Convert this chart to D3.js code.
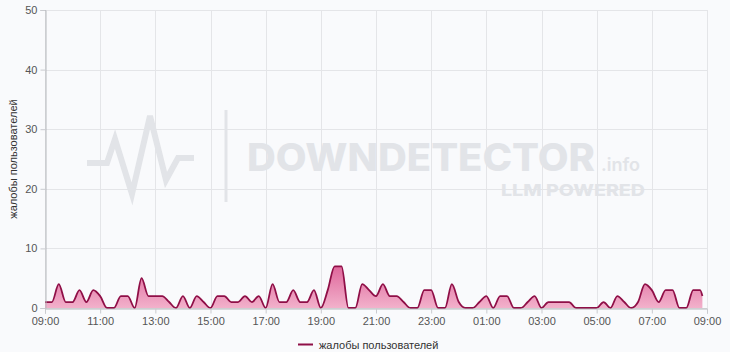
<!DOCTYPE html>
<html>
<head>
<meta charset="utf-8">
<script src="https://cdn.jsdelivr.net/npm/d3@7"></script>
<style>
  html, body { margin: 0; padding: 0; background: #f9fafc; }
  svg { display: block; }
</style>
</head>
<body>
<svg id="chart" width="730" height="352"></svg>
<script>
// ---- data ----
const seriesName = "жалобы пользователей";
const startTime = "2024-01-01T09:00";
const endTime = "2024-01-02T09:00";
const stepMinutes = 15;
// complaints every 15 minutes from 09:00
const complaints = [
  1, 1, 4, 1, 1, 3, 1, 3, 2, 0, 0, 2, 2, 0, 5, 2,
  2, 2, 1, 0, 2, 0, 2, 1, 0, 2, 2, 1, 1, 2, 1, 2,
  0, 4, 1, 1, 3, 1, 1, 3, 0, 3, 7, 7, 0, 0, 4, 3,
  2, 4, 2, 2, 1, 0, 0, 3, 3, 0, 0, 4, 1, 0, 0, 1,
  2, 0, 2, 2, 0, 0, 1, 2, 0, 1, 1, 1, 1, 0, 0, 0,
  0, 1, 0, 2, 1, 0, 1, 4, 3, 1, 3, 3, 0, 0, 3, 3
];
const lastPointTime = "2024-01-02T08:50";
const lastPointValue = 2;
const yTicks = [0, 10, 20, 30, 40, 50];
const xTickHours = 2;

// ---- build ----
const parse = d3.timeParse("%Y-%m-%dT%H:%M");
const t0 = parse(startTime), t1 = parse(endTime);
const data = complaints.map((v, i) => ({ t: d3.timeMinute.offset(t0, i * stepMinutes), v }));
data.push({ t: parse(lastPointTime), v: lastPointValue });

const svg = d3.select("#chart");
const m = { left: 45, right: 23, top: 10, bottom: 44 };
const W = 730, H = 352;
const x = d3.scaleTime().domain([t0, t1]).range([m.left, W - m.right]);
const y = d3.scaleLinear().domain([0, 50]).range([H - m.bottom, m.top]);

const defs = svg.append("defs");
const grad = defs.append("linearGradient").attr("id", "fillGrad")
  .attr("gradientUnits", "userSpaceOnUse")
  .attr("x1", 0).attr("x2", 0).attr("y1", y(8)).attr("y2", y(0));
grad.append("stop").attr("offset", "0%").attr("stop-color", "#dc5c94");
grad.append("stop").attr("offset", "100%").attr("stop-color", "#f2b1cb");

const xTicks = d3.timeHour.range(t0, d3.timeMinute.offset(t1, 1), xTickHours);

// grid
const grid = svg.append("g");
grid.selectAll("line.h").data(yTicks).join("line")
  .attr("x1", m.left).attr("x2", W - m.right)
  .attr("y1", d => Math.round(y(d)) + 0.5).attr("y2", d => Math.round(y(d)) + 0.5)
  .attr("stroke", "#e4e5e8").attr("stroke-width", 1);
grid.selectAll("line.v").data(xTicks).join("line")
  .attr("x1", d => Math.round(x(d)) + 0.5).attr("x2", d => Math.round(x(d)) + 0.5)
  .attr("y1", m.top).attr("y2", H - m.bottom)
  .attr("stroke", "#e4e5e8").attr("stroke-width", 1);

// watermark
const wm = svg.append("g").attr("fill", "none").attr("stroke", "#e2e4e8");
wm.append("polyline")
  .attr("points", "87,163 107,163 115,139 132,194 150,116 166,180 178,158 194,158")
  .attr("stroke-width", 6).attr("stroke-linejoin", "miter").attr("stroke-linecap", "butt");
wm.append("line").attr("x1", 226).attr("x2", 226).attr("y1", 110).attr("y2", 202)
  .attr("stroke-width", 3);
svg.append("text").text("DOWNDETECTOR")
  .attr("x", 247).attr("y", 171)
  .attr("font-family", "Inter, 'DejaVu Sans', sans-serif").attr("font-weight", 800)
  .attr("font-size", 38).attr("fill", "#e2e4e8")
  .attr("textLength", 348).attr("lengthAdjust", "spacingAndGlyphs");
svg.append("text").text(".info")
  .attr("x", 601).attr("y", 171)
  .attr("font-family", "Inter, 'DejaVu Sans', sans-serif").attr("font-weight", 600)
  .attr("font-size", 18).attr("fill", "#e2e4e8");
svg.append("text").text("LLM POWERED")
  .attr("x", 501).attr("y", 196)
  .attr("font-family", "Inter, 'DejaVu Sans', sans-serif").attr("font-weight", 800)
  .attr("font-size", 16).attr("fill", "#e2e4e8")
  .attr("textLength", 144).attr("lengthAdjust", "spacingAndGlyphs");

// area + line
const curve = d3.curveMonotoneX;
svg.append("path").datum(data)
  .attr("d", d3.area().x(d => x(d.t)).y0(y(0)).y1(d => y(d.v)).curve(curve))
  .attr("fill", "url(#fillGrad)");
svg.append("path").datum(data)
  .attr("d", d3.line().x(d => x(d.t)).y(d => y(d.v)).curve(curve))
  .attr("fill", "none").attr("stroke", "#8f0f47").attr("stroke-width", 1.8)
  .attr("stroke-linejoin", "round");

// axes
const font = "'Liberation Sans', Arial, sans-serif";
const yAxis = svg.append("g").attr("transform", `translate(${m.left + 0.5},0)`)
  .call(d3.axisLeft(y).tickValues(yTicks).tickSize(5).tickPadding(3));
const xAxis = svg.append("g").attr("transform", `translate(0,${Math.round(y(0)) + 0.5})`)
  .call(d3.axisBottom(x).tickValues(xTicks).tickFormat(d3.timeFormat("%H:%M")).tickSize(5).tickPadding(4));
[yAxis, xAxis].forEach(a => {
  a.select(".domain").attr("stroke", "#b5b7bb");
  a.selectAll(".tick line").attr("stroke", "#c9cbcf");
  a.selectAll("text").attr("fill", "#555").attr("font-family", font).attr("font-size", 11);
});

// y title
svg.append("text").text(seriesName)
  .attr("transform", `translate(17,${(m.top + H - m.bottom) / 2}) rotate(-90)`)
  .attr("text-anchor", "middle")
  .attr("font-family", font).attr("font-size", 11).attr("fill", "#333");

// legend
const lg = svg.append("g");
lg.append("line").attr("x1", 298).attr("x2", 313).attr("y1", 344.5).attr("y2", 344.5)
  .attr("stroke", "#8f0f47").attr("stroke-width", 2);
lg.append("text").text(seriesName).attr("x", 319).attr("y", 348.5)
  .attr("font-family", font).attr("font-size", 11).attr("fill", "#333");
</script>
</body>
</html>
